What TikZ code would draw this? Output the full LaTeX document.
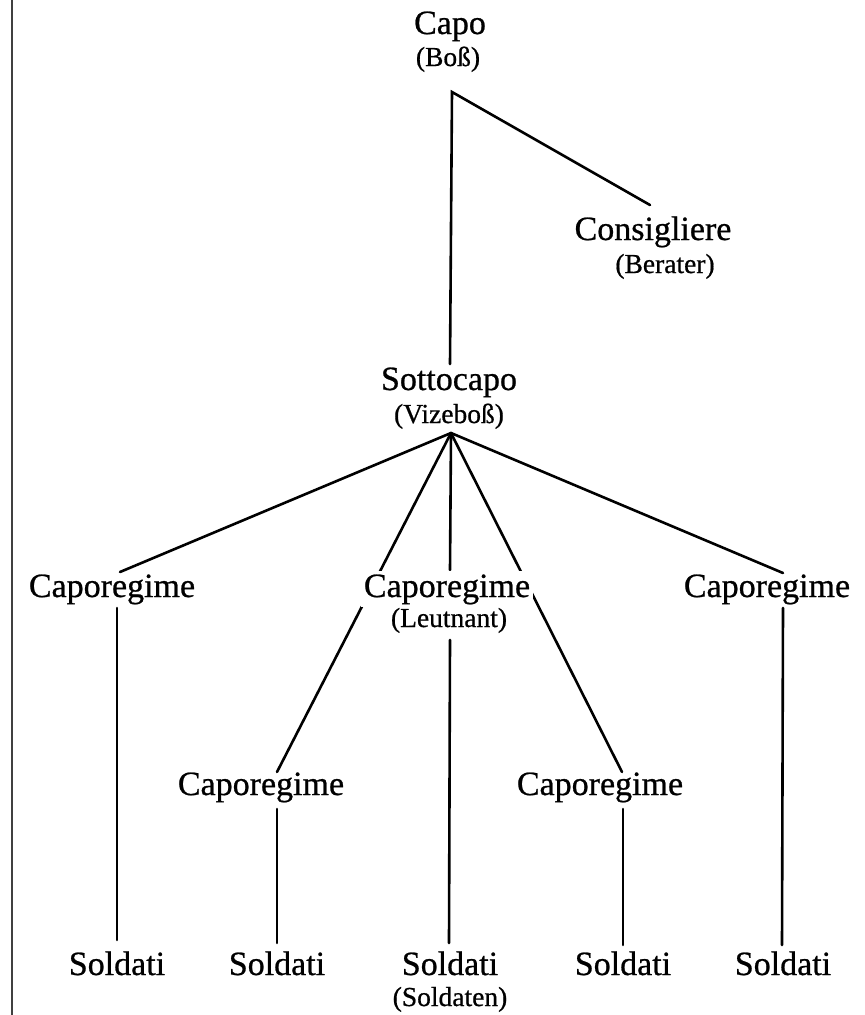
\documentclass[tikz,border=0pt]{standalone}
\usepackage{fontspec}
\setmainfont{Liberation Serif}
\newfontfamily\heavyserif{Liberation Serif}[FakeBold=0.7]
\begin{document}
\begin{tikzpicture}[x=1pt,y=-1pt,
  lbl/.style={anchor=base,inner sep=0pt,font=\heavyserif\fontsize{34}{40}\selectfont},
  sub/.style={anchor=base,inner sep=0pt,font=\heavyserif\fontsize{27.5}{32}\selectfont},
  link/.style={line width=2.6pt,line cap=round}]
\useasboundingbox (0,0) rectangle (865,1015);
% frame line on the left
\draw[line width=2.6pt,black!75] (12,0) -- (12,1015);
% junction points
\coordinate (capoJ) at (452,92);
\coordinate (sottoT) at (450,364);
\coordinate (consT) at (650,205);
\coordinate (fan) at (451,433);
\coordinate (crLT) at (120,572);
\coordinate (crMT) at (450,570);
\coordinate (crRT) at (783,573);
\coordinate (crLLT) at (277,772);
\coordinate (crLRT) at (622,772);
\coordinate (crLB) at (117,608);
\coordinate (crMB) at (450,640);
\coordinate (crRB) at (783,608);
\coordinate (crLLB) at (277,809);
\coordinate (crLRB) at (623,809);
\coordinate (s1T) at (117,940);
\coordinate (s2T) at (277,943);
\coordinate (s3T) at (449,943);
\coordinate (s4T) at (623,945);
\coordinate (s5T) at (782,945);
% connectors
\draw[link] (sottoT) -- (capoJ) -- (consT);
\draw[link] (fan) -- (crLT);
\draw[link] (fan) -- (crMT);
\draw[link] (fan) -- (crRT);
\draw[link] (fan) -- (crLLT);
\draw[link] (fan) -- (crLRT);
\draw[link] (crLB) -- (s1T);
\draw[link] (crLLB) -- (s2T);
\draw[link] (crMB) -- (s3T);
\draw[link] (crLRB) -- (s4T);
\draw[link] (crRB) -- (s5T);
% labels
\node[lbl] (capo) at (450,34) {Capo};
\node[sub] (capoS) at (448,66) {(Boß)};
\node[lbl] (cons) at (653,240) {Consigliere};
\node[sub] (consS) at (665,273) {(Berater)};
\node[lbl] (sotto) at (449,390) {Sottocapo};
\node[sub] (sottoS) at (449,423) {(Vizeboß)};
\node[lbl] (crL) at (112,597) {Caporegime};
\node[lbl,fill=white,inner sep=3pt] (crM) at (447,597) {Caporegime};
\node[sub,fill=white,inner sep=2pt] (crMS) at (449,627) {(Leutnant)};
\node[lbl] (crR) at (767,597) {Caporegime};
\node[lbl] (crLL) at (261,795) {Caporegime};
\node[lbl] (crLR) at (600,795) {Caporegime};
\node[lbl] (s1) at (117,975) {Soldati};
\node[lbl] (s2) at (277,975) {Soldati};
\node[lbl] (s3) at (450,975) {Soldati};
\node[lbl] (s4) at (623,975) {Soldati};
\node[lbl] (s5) at (783,975) {Soldati};
\node[sub] (s3S) at (450,1006) {(Soldaten)};
\end{tikzpicture}
\end{document}
